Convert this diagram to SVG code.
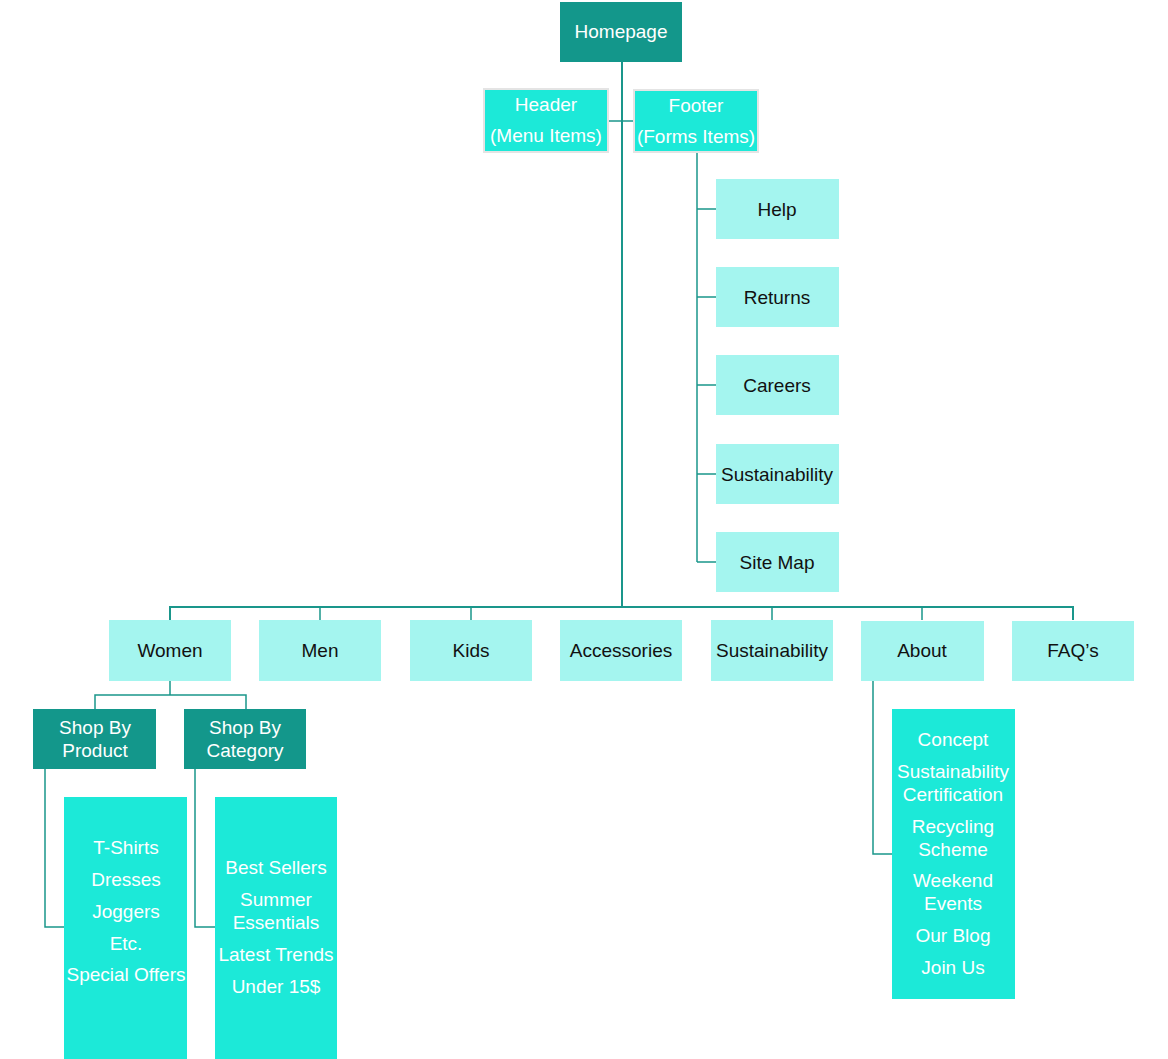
<svg xmlns="http://www.w3.org/2000/svg" width="1168" height="1059" viewBox="0 0 1168 1059">
<style>
text{font-family:"Liberation Sans","Noto Sans",sans-serif;font-size:19px;text-anchor:middle;dominant-baseline:central}
.dark{fill:#13978B}
.mid{fill:#1CE9D8}
.light{fill:#A4F5EF}
.bord{stroke:#E4E4E4;stroke-width:2}
.w{fill:#FFFFFF}
.k{fill:#111111}
.c{fill:none;stroke:#1A968B;stroke-width:1.5}
.t{fill:none;stroke:#1A968B;stroke-width:2}
</style>
<rect width="1168" height="1059" fill="#FFFFFF"/>
<g id="connectors">
<path class="t" d="M622 62V607"/>
<path class="c" d="M609 121H633"/>
<path class="c" d="M697 153V562"/>
<path class="c" d="M697 209H716M697 297H716M697 385H716M697 474H716M697 562H716"/>
<path class="t" d="M170 620V607H1073V620"/>
<path class="c" d="M320 607V620M471 607V620M772 607V620M922 607V620"/>
<path class="c" d="M170 681V695M95 709V695H246V709"/>
<path class="c" d="M45 769V927H64"/>
<path class="c" d="M195 769V927H215"/>
<path class="c" d="M873 681V854H892"/>
</g>
<g id="homepage"><rect class="dark" x="560" y="2" width="122" height="60"/><text class="w" x="621" y="31">Homepage</text></g>
<g id="header"><rect class="mid bord" x="484" y="89" width="124" height="63"/><text class="w" x="546" y="104">Header</text><text class="w" x="546" y="135">(Menu Items)</text></g>
<g id="footer"><rect class="mid bord" x="634" y="90" width="124" height="62"/><text class="w" x="696" y="105">Footer</text><text class="w" x="696" y="136">(Forms Items)</text></g>
<g id="help"><rect class="light" x="716" y="179" width="123" height="60"/><text class="k" x="777" y="209">Help</text></g>
<g id="returns"><rect class="light" x="716" y="267" width="123" height="60"/><text class="k" x="777" y="297">Returns</text></g>
<g id="careers"><rect class="light" x="716" y="355" width="123" height="60"/><text class="k" x="777" y="385">Careers</text></g>
<g id="sustainability-footer"><rect class="light" x="716" y="444" width="123" height="60"/><text class="k" x="777" y="474">Sustainability</text></g>
<g id="sitemap"><rect class="light" x="716" y="532" width="123" height="60"/><text class="k" x="777" y="562">Site Map</text></g>
<g id="women"><rect class="light" x="109" y="620" width="122" height="61"/><text class="k" x="170" y="650">Women</text></g>
<g id="men"><rect class="light" x="259" y="620" width="122" height="61"/><text class="k" x="320" y="650">Men</text></g>
<g id="kids"><rect class="light" x="410" y="620" width="122" height="61"/><text class="k" x="471" y="650">Kids</text></g>
<g id="accessories"><rect class="light" x="560" y="620" width="122" height="61"/><text class="k" x="621" y="650">Accessories</text></g>
<g id="sustainability"><rect class="light" x="711" y="620" width="122" height="61"/><text class="k" x="772" y="650">Sustainability</text></g>
<g id="about"><rect class="light" x="861" y="621" width="123" height="60"/><text class="k" x="922" y="650">About</text></g>
<g id="faqs"><rect class="light" x="1012" y="621" width="122" height="60"/><text class="k" x="1073" y="650">FAQ’s</text></g>
<g id="shop-by-product"><rect class="dark" x="33" y="709" width="123" height="60"/><text class="w" x="95" y="727">Shop By</text><text class="w" x="95" y="750">Product</text></g>
<g id="shop-by-category"><rect class="dark" x="184" y="709" width="122" height="60"/><text class="w" x="245" y="727">Shop By</text><text class="w" x="245" y="750">Category</text></g>
<g id="product-list"><rect class="mid" x="64" y="797" width="123" height="262"/>
<text class="w" x="126" y="847">T-Shirts</text><text class="w" x="126" y="879">Dresses</text><text class="w" x="126" y="911">Joggers</text><text class="w" x="126" y="943">Etc.</text><text class="w" x="126" y="974">Special Offers</text></g>
<g id="category-list"><rect class="mid" x="215" y="797" width="122" height="262"/>
<text class="w" x="276" y="867">Best Sellers</text><text class="w" x="276" y="899">Summer</text><text class="w" x="276" y="922">Essentials</text><text class="w" x="276" y="954">Latest Trends</text><text class="w" x="276" y="986">Under 15$</text></g>
<g id="about-list"><rect class="mid" x="892" y="709" width="123" height="290"/>
<text class="w" x="953" y="739">Concept</text><text class="w" x="953" y="771">Sustainability</text><text class="w" x="953" y="794">Certification</text><text class="w" x="953" y="826">Recycling</text><text class="w" x="953" y="849">Scheme</text><text class="w" x="953" y="880">Weekend</text><text class="w" x="953" y="903">Events</text><text class="w" x="953" y="935">Our Blog</text><text class="w" x="953" y="967">Join Us</text></g>
</svg>
